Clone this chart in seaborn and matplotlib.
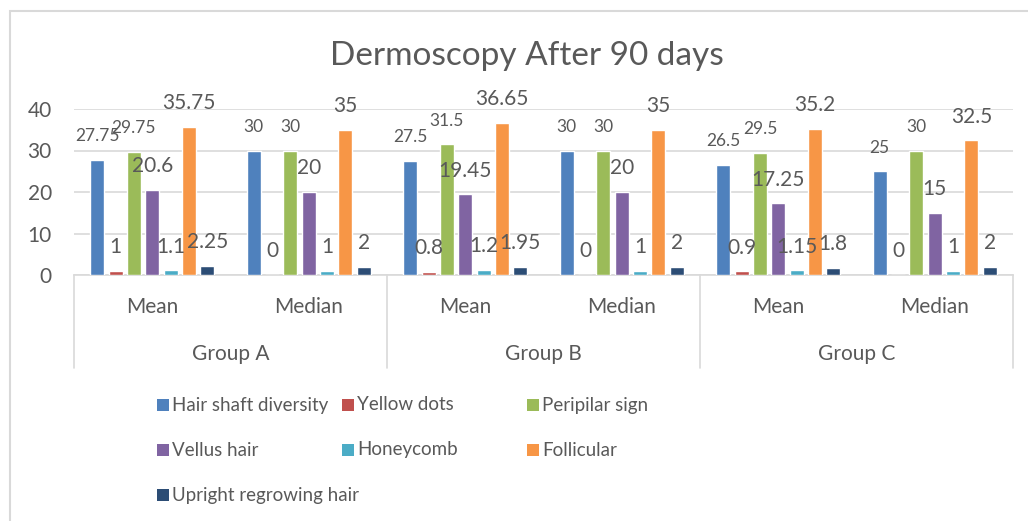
import numpy as np
import pandas as pd
import seaborn as sns
import matplotlib.pyplot as plt
from matplotlib.patches import Rectangle
from matplotlib.transforms import blended_transform_factory

# ---- data ----
groups = ["Group A", "Group B", "Group C"]
stats = ["Mean", "Median"]
series = ["Hair shaft diversity", "Yellow dots", "Peripilar sign", "Vellus hair",
          "Honeycomb", "Follicular", "Upright regrowing hair"]
hair_shaft = [27.75, 30, 27.5, 30, 26.5, 25]
yellow_dots = [1, 0, 0.8, 0, 0.9, 0]
peripilar = [29.75, 30, 31.5, 30, 29.5, 30]
vellus = [20.6, 20, 19.45, 20, 17.25, 15]
honeycomb = [1.1, 1, 1.2, 1, 1.15, 1]
follicular = [35.75, 35, 36.65, 35, 35.2, 32.5]
upright = [2.25, 2, 1.95, 2, 1.8, 2]
yticks = [0, 10, 20, 30, 40]
title = "Dermoscopy After 90 days"

colors = ["#4F81BD", "#C0504D", "#9BBB59", "#8064A2", "#4BACC6", "#F79646", "#2C4D75"]
small_label_series = {"Hair shaft diversity", "Peripilar sign"}

values = [hair_shaft, yellow_dots, peripilar, vellus, honeycomb, follicular, upright]
cats = [f"{g}|{s}" for g in groups for s in stats]
rows = []
for name, vals in zip(series, values):
    for c, v in zip(cats, vals):
        rows.append({"cat": c, "series": name, "value": v})
df = pd.DataFrame(rows)

sns.set_style("white")
plt.rcParams["font.family"] = ["Lato", "DejaVu Sans"]
TXT = "#595959"
GRID = "#D9D9D9"

W, H = 1028, 521
fig = plt.figure(figsize=(W / 100, H / 100), dpi=100)
ax = fig.add_axes([74 / W, 1 - 275 / H, (1013 - 74) / W, (275 - 109) / H])

sns.barplot(data=df, x="cat", y="value", hue="series", order=cats, hue_order=series,
            palette=colors, width=0.82, gap=0.23, saturation=1, legend=False,
            errorbar=None, ax=ax, zorder=3)

ax.set_xlim(-0.5, len(cats) - 0.5)
ax.set_ylim(0, 40)
ax.set_yticks(yticks)
ax.set_yticklabels([str(t) for t in yticks])
ax.grid(axis="y", color=GRID, lw=1.2)
ax.set_axisbelow(True)
for s in ["left", "right", "top"]:
    ax.spines[s].set_visible(False)
ax.spines["bottom"].set_color(GRID)
ax.spines["bottom"].set_linewidth(1.2)
ax.spines["bottom"].set_zorder(1)
ax.tick_params(axis="y", length=0, pad=16, labelsize=15, labelcolor=TXT)
ax.tick_params(axis="x", length=0, pad=15.5, labelsize=15, labelcolor=TXT)
ax.set_xticks(range(len(cats)))
ax.set_xticklabels([c.split("|")[1] for c in cats])
ax.set_xlabel("")
ax.set_ylabel("")

# data labels
for name, vals, cont in zip(series, values, ax.containers):
    fs = 12.5 if name in small_label_series else 15
    for bar, v in zip(cont, vals):
        ax.annotate(f"{v:g}", (bar.get_x() + bar.get_width() / 2, v),
                    xytext=(0, 17), textcoords="offset points",
                    ha="center", va="center", fontsize=fs, color=TXT,
                    annotation_clip=False, zorder=5)

# group labels and separators
tr = blended_transform_factory(ax.transData, ax.transAxes)
axh = 275 - 109
for i, g in enumerate(groups):
    ax.text(2 * i + 0.5, -(354 - 275) / axh, g, transform=tr, ha="center",
            va="center", fontsize=15, color=TXT)
for xs in np.arange(-0.5, len(cats), 2):
    ax.plot([xs, xs], [0, -(368 - 275) / axh], transform=tr, color=GRID,
            lw=1.2, clip_on=False)

# title
fig.text(527 / W, 1 - 56 / H, title, ha="center", va="center", fontsize=24, color=TXT)

# outer chart border (cropped on the right and bottom)
fig.add_artist(Rectangle((10 / W, -0.2), 1.2, 1 - 11 / H + 0.2, transform=fig.transFigure,
                         fill=False, edgecolor=GRID, lw=1.5))

# legend
col_x = [157, 342, 527]
row_y = [405, 450, 495]
for k, (name, col) in enumerate(zip(series, colors)):
    r, c = divmod(k, 3)
    x, y = col_x[c], row_y[r]
    fig.add_artist(Rectangle((x / W, 1 - (y + 6) / H), 12 / W, 12 / H,
                             transform=fig.transFigure, facecolor=col, edgecolor="none"))
    fig.text((x + 15) / W, 1 - y / H, name, ha="left", va="center", fontsize=13.5, color=TXT)

fig.savefig("out.png", dpi=100)
